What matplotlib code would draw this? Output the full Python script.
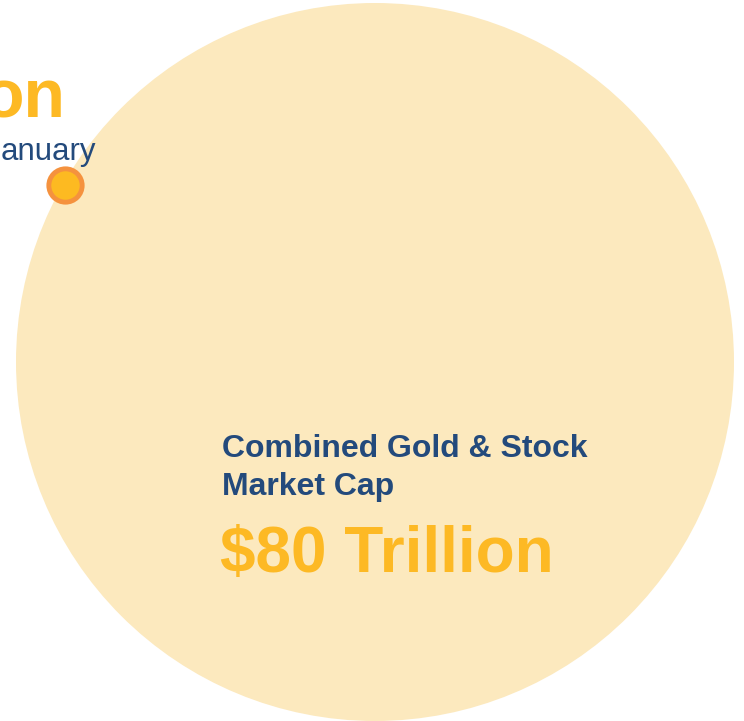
import matplotlib
matplotlib.use('Agg')
import matplotlib.pyplot as plt
from matplotlib.patches import Circle

plt.rcParams['font.family'] = ['Liberation Sans', 'DejaVu Sans']

# values (trillion USD) and labels
big_label = ['Combined Gold & Stock', 'Market Cap']
big_value = 80
big_value_text = '$80 Trillion'
small_title_tail = 'on'
small_sub_tail = 'anuary'

navy = '#234A7C'
gold = '#FDB924'
pale = '#FCE9BE'

fig = plt.figure(figsize=(7.44, 7.21), dpi=100)
ax = fig.add_axes([0, 0, 1, 1])
ax.set_xlim(0, 744)
ax.set_ylim(721, 0)
ax.set_aspect('equal')
ax.axis('off')

# big circle, radius from value
scale = 359 / big_value ** 0.5
r_big = scale * big_value ** 0.5
ax.add_patch(Circle((375, 362), r_big, facecolor=pale, edgecolor='none', zorder=1))

# small marker
ax.plot(65, 185, marker='o', ms=24, mfc='#FDBA21', mec='#F5923E', mew=3.5, zorder=3)

ax.text(65, 117, small_title_tail, ha='right', va='baseline', fontsize=49,
        fontweight='bold', color=gold, zorder=4)
ax.text(96, 160, small_sub_tail, ha='right', va='baseline', fontsize=22.5,
        color=navy, zorder=4)

for i, line in enumerate(big_label):
    ax.text(222, 457 + 38 * i, line, ha='left', va='baseline', fontsize=23,
            fontweight='bold', color=navy, zorder=4)
ax.text(220, 572, big_value_text, ha='left', va='baseline', fontsize=46,
        fontweight='bold', color=gold, zorder=4)

fig.savefig('out.png', dpi=100)
